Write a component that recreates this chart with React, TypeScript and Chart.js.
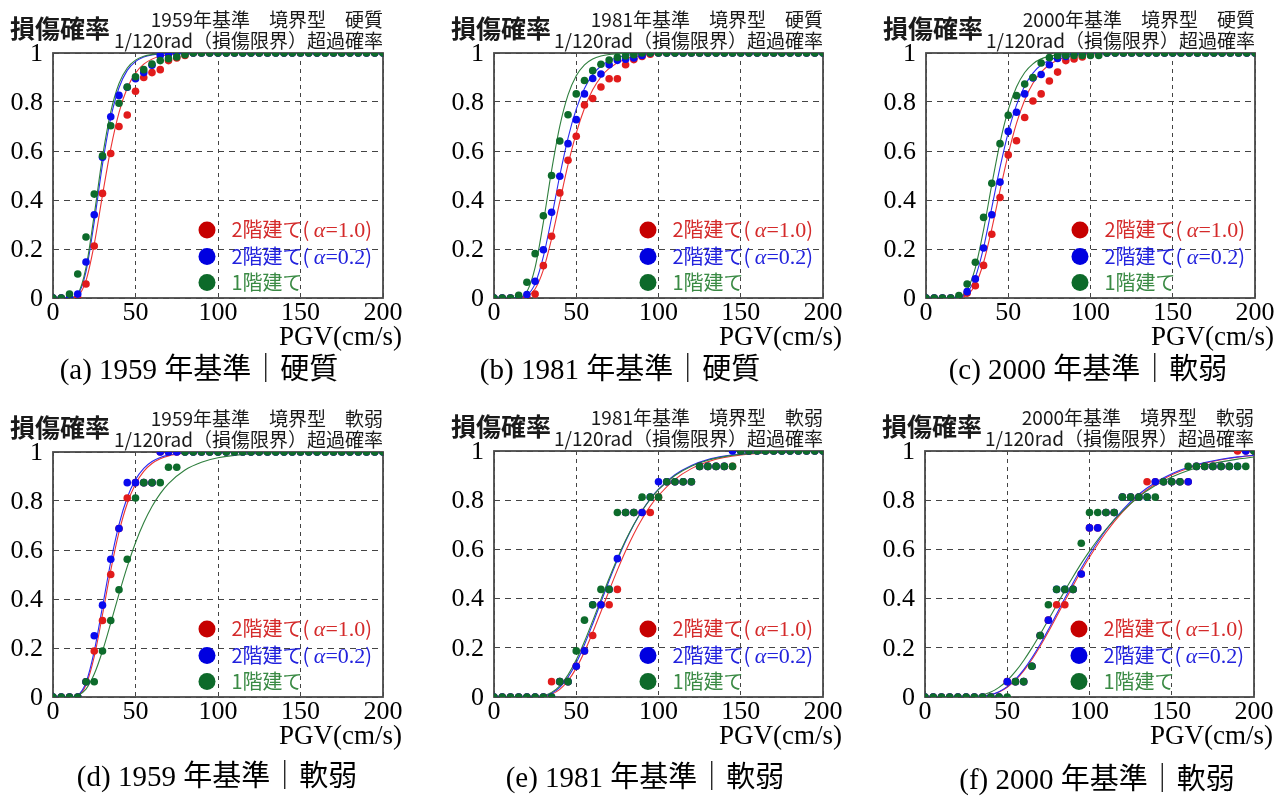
import React, { useEffect, useRef } from "react";
import { Chart, registerables } from "chart.js";

Chart.register(...registerables);

// ---------------- DATA ----------------
const pgv = [0, 5, 10, 15, 20, 25, 30, 35, 40, 45, 50, 55, 60, 65, 70, 75, 80, 85, 90, 95, 100,
  105, 110, 115, 120, 125, 130, 135, 140, 145, 150, 155, 160, 165, 170, 175, 180, 185, 190, 195, 200];

const xTicks = [0, 50, 100, 150, 200];
const xTickLabels = ["0", "50", "100", "150", "200"];
const yTicks = [0, 0.2, 0.4, 0.6, 0.8, 1];
const yTickLabels = ["0", "0.2", "0.4", "0.6", "0.8", "1"];

const seriesNames = ["2階建て", "2階建て", "1階建て"];
const alphaValues = ["1.0", "0.2", ""];

// (a) 1959 hard
const redA = [0, 0, 0, 0, 0.057, 0.212, 0.427, 0.59, 0.70, 0.747,
  0.844, 0.90, 0.92, 0.932, 0.969, 0.98, 0.99, 1, 1, 1,
  1, 1, 1, 1, 1, 1, 1, 1, 1, 1, 1, 1, 1, 1, 1, 1, 1, 1, 1, 1, 1];
const blueA = [0, 0, 0, 0.016, 0.147, 0.34, 0.574, 0.74, 0.827, 0.86,
  0.895, 0.92, 0.95, 0.99, 0.995, 1, 1, 1, 1, 1,
  1, 1, 1, 1, 1, 1, 1, 1, 1, 1, 1, 1, 1, 1, 1, 1, 1, 1, 1, 1, 1];
const greenA = [0, 0, 0.016, 0.098, 0.249, 0.424, 0.58, 0.703, 0.795, 0.861,
  0.903, 0.932, 0.955, 0.969, 0.977, 0.984, 0.993, 1, 1, 1,
  1, 1, 1, 1, 1, 1, 1, 1, 1, 1, 1, 1, 1, 1, 1, 1, 1, 1, 1, 1, 1];

// (b) 1981 hard
const redB = [0, 0, 0, 0, 0, 0.016, 0.132, 0.252, 0.429, 0.562,
  0.66, 0.788, 0.814, 0.861, 0.895, 0.895, 0.952, 0.973, 0.986, 0.995,
  1, 1, 1, 1, 1, 1, 1, 1, 1, 1, 1, 1, 1, 1, 1, 1, 1, 1, 1, 1, 1];
const blueB = [0, 0, 0, 0, 0.014, 0.068, 0.197, 0.35, 0.497, 0.63,
  0.728, 0.833, 0.896, 0.914, 0.952, 0.97, 0.975, 0.98, 0.99, 1,
  1, 1, 1, 1, 1, 1, 1, 1, 1, 1, 1, 1, 1, 1, 1, 1, 1, 1, 1, 1, 1];
const greenB = [0, 0, 0, 0.011, 0.064, 0.181, 0.336, 0.5, 0.641, 0.748,
  0.833, 0.888, 0.928, 0.954, 0.971, 0.982, 0.988, 0.993, 1, 1,
  1, 1, 1, 1, 1, 1, 1, 1, 1, 1, 1, 1, 1, 1, 1, 1, 1, 1, 1, 1, 1];

// (c) 2000
const redC = [0, 0, 0, 0, 0, 0.02, 0.05, 0.133, 0.26, 0.41,
  0.584, 0.642, 0.737, 0.804, 0.833, 0.886, 0.922, 0.969, 0.976, 0.984,
  0.995, 1, 1, 1, 1, 1, 1, 1, 1, 1, 1, 1, 1, 1, 1, 1, 1, 1, 1, 1, 1];
const blueC = [0, 0, 0, 0, 0, 0.026, 0.078, 0.204, 0.34, 0.473,
  0.68, 0.758, 0.833, 0.898, 0.912, 0.952, 0.978, 0.986, 0.995, 1,
  1, 1, 1, 1, 1, 1, 1, 1, 1, 1, 1, 1, 1, 1, 1, 1, 1, 1, 1, 1, 1];
const greenC = [0, 0, 0, 0, 0.01, 0.057, 0.146, 0.329, 0.468, 0.63,
  0.746, 0.826, 0.873, 0.9, 0.959, 0.981, 0.989, 0.99, 0.99, 0.99,
  0.99, 0.99, 1, 1, 1, 1, 1, 1, 1, 1, 1, 1, 1, 1, 1, 1, 1, 1, 1, 1, 1];

// (d) 1959 soft
const redD = [0, 0, 0, 0, 0.0625, 0.1875, 0.3125, 0.5, 0.6875, 0.8125,
  0.875, 0.875, 0.875, 1, 1, 1, 1, 1, 1, 1,
  1, 1, 1, 1, 1, 1, 1, 1, 1, 1, 1, 1, 1, 1, 1, 1, 1, 1, 1, 1, 1];
const blueD = [0, 0, 0, 0, 0.0625, 0.25, 0.375, 0.5625, 0.6875, 0.875,
  0.875, 0.875, 0.875, 1, 1, 1, 1, 1, 1, 1,
  1, 1, 1, 1, 1, 1, 1, 1, 1, 1, 1, 1, 1, 1, 1, 1, 1, 1, 1, 1, 1];
const greenD = [0, 0, 0, 0, 0.0625, 0.0625, 0.1875, 0.3125, 0.4375, 0.5625,
  0.8125, 0.875, 0.875, 0.875, 0.9375, 0.9375, 1, 1, 1, 1,
  1, 1, 1, 1, 1, 1, 1, 1, 1, 1, 1, 1, 1, 1, 1, 1, 1, 1, 1, 1, 1];

// (e) 1981 soft
const redE = [0, 0, 0, 0, 0, 0, 0, 0.0625, 0.0625, 0.0625,
  0.125, 0.1875, 0.25, 0.375, 0.375, 0.4375, 0.75, 0.75, 0.75, 0.75,
  0.8125, 0.875, 0.875, 0.875, 0.875, 0.9375, 0.9375, 0.9375, 0.9375, 0.9375,
  1, 1, 1, 1, 1, 1, 1, 1, 1, 1, 1];
const blueE = [0, 0, 0, 0, 0, 0, 0, 0, 0.0625, 0.0625,
  0.125, 0.1875, 0.375, 0.375, 0.4375, 0.5625, 0.75, 0.75, 0.75, 0.8125,
  0.875, 0.875, 0.875, 0.875, 0.875, 0.9375, 0.9375, 0.9375, 0.9375, 1,
  1, 1, 1, 1, 1, 1, 1, 1, 1, 1, 1];
const greenE = [0, 0, 0, 0, 0, 0, 0, 0, 0.0625, 0.0625,
  0.1875, 0.3125, 0.375, 0.4375, 0.4375, 0.75, 0.75, 0.75, 0.8125, 0.8125,
  0.8125, 0.875, 0.875, 0.875, 0.875, 0.9375, 0.9375, 0.9375, 0.9375, 0.9375,
  1, 1, 1, 1, 1, 1, 1, 1, 1, 1, 1];

// (f) 2000 soft
const redF = [0, 0, 0, 0, 0, 0, 0, 0, 0, 0,
  0.0625, 0.0625, 0.0625, 0.125, 0.25, 0.3125, 0.375, 0.375, 0.4375, 0.5,
  0.6875, 0.6875, 0.75, 0.75, 0.8125, 0.8125, 0.8125, 0.875, 0.875, 0.875,
  0.875, 0.875, 0.875, 0.9375, 0.9375, 0.9375, 0.9375, 0.9375, 1, 1, 1];
const blueF = [0, 0, 0, 0, 0, 0, 0, 0, 0, 0,
  0.0625, 0.0625, 0.0625, 0.125, 0.25, 0.3125, 0.4375, 0.4375, 0.4375, 0.5,
  0.6875, 0.6875, 0.75, 0.75, 0.8125, 0.8125, 0.8125, 0.8125, 0.875, 0.875,
  0.875, 0.875, 0.875, 0.9375, 0.9375, 0.9375, 0.9375, 0.9375, 0.9375, 1, 1];
const greenF = [0, 0, 0, 0, 0, 0, 0, 0, 0, 0,
  0, 0.0625, 0.0625, 0.125, 0.25, 0.375, 0.4375, 0.4375, 0.4375, 0.625,
  0.75, 0.75, 0.75, 0.75, 0.8125, 0.8125, 0.8125, 0.8125, 0.8125, 0.875,
  0.875, 0.875, 0.9375, 0.9375, 0.9375, 0.9375, 0.9375, 0.9375, 0.9375, 0.9375, 1];

// fitted curves (values at these PGV nodes)
const fitXSteep = [0, 10, 15, 20, 25, 30, 35, 40, 45, 50, 55, 60, 65, 70, 80, 90, 100, 120, 150, 200];
const fitXWide = [0, 25, 30, 35, 40, 45, 50, 55, 60, 65, 70, 75, 80, 85, 90, 95, 100,
  110, 120, 130, 140, 150, 160, 170, 180, 190, 200];

const redFitA = [0, 0.0001, 0.0089, 0.071, 0.22, 0.42, 0.61, 0.757, 0.857, 0.918, 0.9545, 0.975, 0.9865, 0.9927, 0.9978, 0.9994, 1, 1, 1, 1];
const blueFitA = [0, 0.0002, 0.014, 0.108, 0.311, 0.545, 0.735, 0.858, 0.929, 0.965, 0.9835, 0.9923, 0.9964, 0.9983, 0.9997, 1, 1, 1, 1, 1];
const greenFitA = [0, 0.0003, 0.017, 0.124, 0.34, 0.577, 0.76, 0.8755, 0.939, 0.971, 0.9866, 0.9938, 0.9972, 0.9987, 0.9998, 1, 1, 1, 1, 1];

const redFitB = [0, 0, 0.0003, 0.0061, 0.037, 0.115, 0.241, 0.393, 0.544, 0.673, 0.7746, 0.8497, 0.902, 0.937, 0.9753, 0.9905, 0.9964, 0.9995, 1, 1];
const blueFitB = [0, 0, 0.0005, 0.0104, 0.0586, 0.1685, 0.3275, 0.5, 0.653, 0.771, 0.8554, 0.9115, 0.947, 0.9688, 0.9896, 0.9966, 0.9989, 0.9999, 1, 1];
const greenFitB = [0, 0, 0.0015, 0.0258, 0.125, 0.3085, 0.52, 0.7016, 0.829, 0.9074, 0.952, 0.9759, 0.9881, 0.9942, 0.9986, 0.9997, 1, 1, 1, 1];

const redFitC = [0, 0, 0, 0.0011, 0.0121, 0.054, 0.145, 0.2826, 0.439, 0.5875, 0.7126, 0.808, 0.8764, 0.9223, 0.9713, 0.9899, 0.9965, 0.9996, 1, 1];
const blueFitC = [0, 0, 0.0001, 0.0024, 0.0217, 0.0852, 0.2058, 0.3685, 0.5327, 0.676, 0.787, 0.8658, 0.918, 0.9512, 0.9837, 0.9947, 0.9983, 0.9999, 1, 1];
const greenFitC = [0, 0, 0.0001, 0.0039, 0.0334, 0.1232, 0.278, 0.463, 0.6346, 0.768, 0.861, 0.9203, 0.9558, 0.976, 0.9933, 0.9981, 0.9995, 1, 1, 1];

const redFitD = [0, 0.0001, 0.0058, 0.0493, 0.1645, 0.3358, 0.517, 0.673, 0.79, 0.8695, 0.921, 0.953, 0.9724, 0.984, 0.9946, 0.9982, 0.9994, 1, 1, 1];
const blueFitD = [0, 0.0001, 0.0074, 0.059, 0.187, 0.3685, 0.552, 0.704, 0.8143, 0.8873, 0.9332, 0.9611, 0.9776, 0.9871, 0.9958, 0.9986, 0.9996, 1, 1, 1];
const greenFitD = [0, 0.0002, 0.0056, 0.0322, 0.0936, 0.1878, 0.302, 0.4207, 0.532, 0.6297, 0.7112, 0.7776, 0.8302, 0.871, 0.9265, 0.9583, 0.9763, 0.9922, 0.9984, 0.9999];

const redFitE = [0, 0.0005, 0.0031, 0.0116, 0.0312, 0.066, 0.1174, 0.1841, 0.2624, 0.3468, 0.4325, 0.5156, 0.5933, 0.6631, 0.7237, 0.7758, 0.8191,
  0.8849, 0.9284, 0.9563, 0.9734, 0.9839, 0.9903, 0.9941, 0.9965, 0.9979, 0.9987];
const blueFitE = [0, 0.0007, 0.0042, 0.0151, 0.0392, 0.0803, 0.139, 0.2127, 0.297, 0.3855, 0.4733, 0.5565, 0.6327, 0.6998, 0.757, 0.8054, 0.845,
  0.9037, 0.9415, 0.965, 0.9791, 0.9876, 0.9927, 0.9957, 0.9974, 0.9985, 0.9991];
const greenFitE = [0, 0.0011, 0.0056, 0.0187, 0.0457, 0.09, 0.151, 0.2257, 0.3096, 0.3967, 0.4825, 0.5632, 0.6368, 0.7016, 0.757, 0.804, 0.8428,
  0.9006, 0.9383, 0.9624, 0.9771, 0.9861, 0.9915, 0.9951, 0.9969, 0.9981, 0.9989];

const redFitF = [0, 0.0001, 0.0008, 0.003, 0.0088, 0.0205, 0.0398, 0.0683, 0.1062, 0.1527, 0.2064, 0.265, 0.3274, 0.3905, 0.4526, 0.5124, 0.5683,
  0.6686, 0.7511, 0.8167, 0.866, 0.9032, 0.9303, 0.9502, 0.9645, 0.9746, 0.9818];
const blueFitF = [0, 0.0001, 0.0008, 0.0033, 0.0095, 0.0218, 0.0423, 0.072, 0.1114, 0.1594, 0.2142, 0.2743, 0.3376, 0.4013, 0.4633, 0.5231, 0.5793,
  0.6787, 0.7599, 0.8241, 0.872, 0.9079, 0.934, 0.953, 0.9666, 0.9762, 0.983];
const greenFitF = [0, 0.0006, 0.0028, 0.0084, 0.0199, 0.0392, 0.0671, 0.1038, 0.1485, 0.1996, 0.2553, 0.3138, 0.3733, 0.4325, 0.4888, 0.543, 0.5929,
  0.6819, 0.7549, 0.8141, 0.8595, 0.8944, 0.9207, 0.9409, 0.9559, 0.9671, 0.9755];

// ---------------- STYLE ----------------
const SERIF = "'Liberation Serif', 'Times New Roman', serif";
const GOTHIC = "'Noto Sans CJK JP', 'Noto Sans', sans-serif";
const MIXED = "'Liberation Serif', 'Noto Sans CJK JP', serif";
const TITLE2 = "1/120rad（損傷限界）超過確率";
const YLABEL = "損傷確率";
const XLABEL = "PGV(cm/s)";

const PT = ["#e11b1b", "#0a0aee", "#0d6b2b"];
const LN = ["#ec3434", "#2a2af2", "#2f7f3e"];
const LEG = ["#c60000", "#0000e0", "#0d6a2a"];
const TXT = ["#d42a2a", "#2222dd", "#3a8a44"];
const GRID = "#444444";
const FRAME = "#4a4a4a";

const panels = [
  { key: "a", title1: "1959年基準　境界型　硬質", caption: "(a) 1959 年基準｜硬質",
    pts: [redA, blueA, greenA], fitX: fitXSteep, fits: [redFitA, blueFitA, greenFitA],
    canvas: { x: 0, y: 0, w: 430, h: 398 }, plot: { l: 53, t: 53, r: 383, b: 298 }, cap: { x: 199, y: 371 } },
  { key: "b", title1: "1981年基準　境界型　硬質", caption: "(b) 1981 年基準｜硬質",
    pts: [redB, blueB, greenB], fitX: fitXSteep, fits: [redFitB, blueFitB, greenFitB],
    canvas: { x: 430, y: 0, w: 430, h: 398 }, plot: { l: 494, t: 53, r: 823, b: 298 }, cap: { x: 620, y: 371 } },
  { key: "c", title1: "2000年基準　境界型　硬質", caption: "(c) 2000 年基準｜軟弱",
    pts: [redC, blueC, greenC], fitX: fitXSteep, fits: [redFitC, blueFitC, greenFitC],
    canvas: { x: 860, y: 0, w: 425, h: 398 }, plot: { l: 926, t: 53, r: 1255, b: 298 }, cap: { x: 1088, y: 371 } },
  { key: "d", title1: "1959年基準　境界型　軟弱", caption: "(d) 1959 年基準｜軟弱",
    pts: [redD, blueD, greenD], fitX: fitXSteep, fits: [redFitD, blueFitD, greenFitD],
    canvas: { x: 0, y: 398, w: 430, h: 398 }, plot: { l: 53, t: 452, r: 383, b: 697 }, cap: { x: 217, y: 778 } },
  { key: "e", title1: "1981年基準　境界型　軟弱", caption: "(e) 1981 年基準｜軟弱",
    pts: [redE, blueE, greenE], fitX: fitXWide, fits: [redFitE, blueFitE, greenFitE],
    canvas: { x: 430, y: 398, w: 430, h: 398 }, plot: { l: 494, t: 451, r: 823, b: 697 }, cap: { x: 645, y: 779 } },
  { key: "f", title1: "2000年基準　境界型　軟弱", caption: "(f) 2000 年基準｜軟弱",
    pts: [redF, blueF, greenF], fitX: fitXWide, fits: [redFitF, blueFitF, greenFitF],
    canvas: { x: 860, y: 398, w: 425, h: 398 }, plot: { l: 925, t: 451, r: 1254, b: 697 }, cap: { x: 1097, y: 781 } },
];

const XH = 30;

function zip(xs: number[], ys: number[]) {
  return xs.map((x, i) => ({ x, y: ys[i] }));
}

function makeDecor(p: any) {
  return {
    id: "decor_" + p.key,
    beforeDatasetsDraw(chart: any) {
      const { ctx, chartArea: a } = chart;
      ctx.save();
      ctx.setLineDash([]);
      ctx.strokeStyle = FRAME;
      ctx.lineWidth = 1.8;
      ctx.strokeRect(a.left, a.top, a.right - a.left, a.bottom - a.top);
      ctx.restore();
    },
    afterDraw(chart: any) {
      const { ctx, chartArea: a } = chart;
      const xs = chart.scales.x;
      const ys = chart.scales.y;
      ctx.save();
      // tick labels, placed through the chart's own scales
      ctx.fillStyle = "#000";
      ctx.font = `26px ${SERIF}`;
      ctx.textAlign = "center";
      ctx.textBaseline = "middle";
      xs.ticks.forEach((t: any, i: number) => {
        ctx.fillText(xTickLabels[i], xs.getPixelForValue(t.value), a.bottom + 15);
      });
      ctx.textAlign = "right";
      ys.ticks.forEach((t: any, i: number) => {
        ctx.fillText(yTickLabels[i], a.left - 10, ys.getPixelForValue(t.value) + 1);
      });

      ctx.textBaseline = "middle";
      ctx.fillStyle = "#1a1a1a";
      ctx.textAlign = "left";
      ctx.font = `bold 25px ${GOTHIC}`;
      ctx.fillText(YLABEL, a.left - 43, a.top - 25);
      ctx.textAlign = "right";
      ctx.font = `19px ${GOTHIC}`;
      ctx.fillText(p.title1, a.right, a.top - 33);
      ctx.fillText(TITLE2, a.right, a.top - 12);
      ctx.fillStyle = "#000";
      ctx.font = `27px ${SERIF}`;
      ctx.fillText(XLABEL, a.right + 19, a.bottom + 40);
      ctx.textAlign = "center";
      ctx.font = `29px ${MIXED}`;
      ctx.fillText(p.caption, p.cap.x - p.canvas.x, p.cap.y - p.canvas.y);

      // legend
      const rows = [68, 41.5, 15.5];
      for (let i = 0; i < 3; i++) {
        const cy = a.bottom - rows[i];
        ctx.beginPath();
        ctx.fillStyle = LEG[i];
        ctx.arc(a.left + 154, cy, 8.5, 0, Math.PI * 2);
        ctx.fill();
        let x = a.left + 178.5;
        const base = cy + 7;
        ctx.textAlign = "left";
        ctx.textBaseline = "alphabetic";
        ctx.fillStyle = TXT[i];
        const parts: any[] = [];
        if (alphaValues[i]) {
          parts.push({ t: seriesNames[i] + "( ", f: `20px ${GOTHIC}` });
          parts.push({ t: "α", f: `italic 22px ${SERIF}` });
          parts.push({ t: "=" + alphaValues[i], f: `22px ${SERIF}` });
          parts.push({ t: ")", f: `20px ${GOTHIC}` });
        } else {
          parts.push({ t: seriesNames[i], f: `20px ${GOTHIC}` });
        }
        for (const pt of parts) {
          ctx.font = pt.f;
          ctx.fillText(pt.t, x, base);
          x += ctx.measureText(pt.t).width;
        }
        ctx.textBaseline = "middle";
      }
      ctx.restore();
    },
  };
}

function buildConfig(p: any) {
  const L = p.plot.l - p.canvas.x;
  const T = p.plot.t - p.canvas.y;
  const R = p.plot.r - p.canvas.x;
  const B = p.plot.b - p.canvas.y;
  const pointSets = [0, 1, 2].map((i) => ({
    data: zip(pgv, p.pts[i]),
    showLine: false,
    pointRadius: 3.8,
    pointBackgroundColor: PT[i],
    pointBorderColor: PT[i],
    pointBorderWidth: 0,
    order: 3 - i,
  }));
  const fitSets = [0, 1, 2].map((i) => ({
    data: zip(p.fitX, p.fits[i]),
    showLine: true,
    fill: false,
    pointRadius: 0,
    borderColor: LN[i],
    borderWidth: 1.1,
    cubicInterpolationMode: "monotone",
    order: 6 - i,
  }));
  return {
    type: "scatter",
    data: { datasets: [...pointSets, ...fitSets] },
    plugins: [makeDecor(p)],
    options: {
      responsive: false,
      maintainAspectRatio: false,
      animation: false,
      devicePixelRatio: 1,
      events: [],
      layout: { padding: { left: 0, top: T, right: p.canvas.w - R, bottom: p.canvas.h - B - XH } },
      plugins: { legend: { display: false }, tooltip: { enabled: false }, title: { display: false } },
      scales: {
        x: {
          type: "linear",
          position: "bottom",
          min: 0,
          max: 200,
          afterFit: (s: any) => { s.height = XH; },
          afterBuildTicks: (s: any) => { s.ticks = xTicks.map((v) => ({ value: v })); },
          ticks: { display: false, autoSkip: false },
          grid: { color: GRID, lineWidth: 1, drawTicks: false, borderDash: [4, 4] },
          border: { display: false, dash: [4, 4] },
        },
        y: {
          type: "linear",
          position: "left",
          min: 0,
          max: 1,
          afterFit: (s: any) => { s.width = L; },
          afterBuildTicks: (s: any) => { s.ticks = yTicks.map((v) => ({ value: v })); },
          ticks: { display: false, autoSkip: false },
          grid: { color: GRID, lineWidth: 1, drawTicks: false, borderDash: [6, 5] },
          border: { display: false, dash: [6, 5] },
        },
      },
    },
  };
}

function Panel({ p }: { p: any }) {
  const ref = useRef<HTMLCanvasElement>(null);
  useEffect(() => {
    const canvas = ref.current;
    if (!canvas) return;
    const chart = new Chart(canvas, buildConfig(p) as any);
    return () => chart.destroy();
  }, [p]);
  return (
    <canvas
      ref={ref}
      width={p.canvas.w}
      height={p.canvas.h}
      style={{ position: "absolute", left: p.canvas.x, top: p.canvas.y, width: p.canvas.w, height: p.canvas.h }}
    />
  );
}

export default function App() {
  return (
    <div style={{ position: "absolute", left: 0, top: 0, width: 1285, height: 796, background: "#fff", overflow: "hidden" }}>
      {panels.map((p) => (
        <Panel key={p.key} p={p} />
      ))}
    </div>
  );
}
